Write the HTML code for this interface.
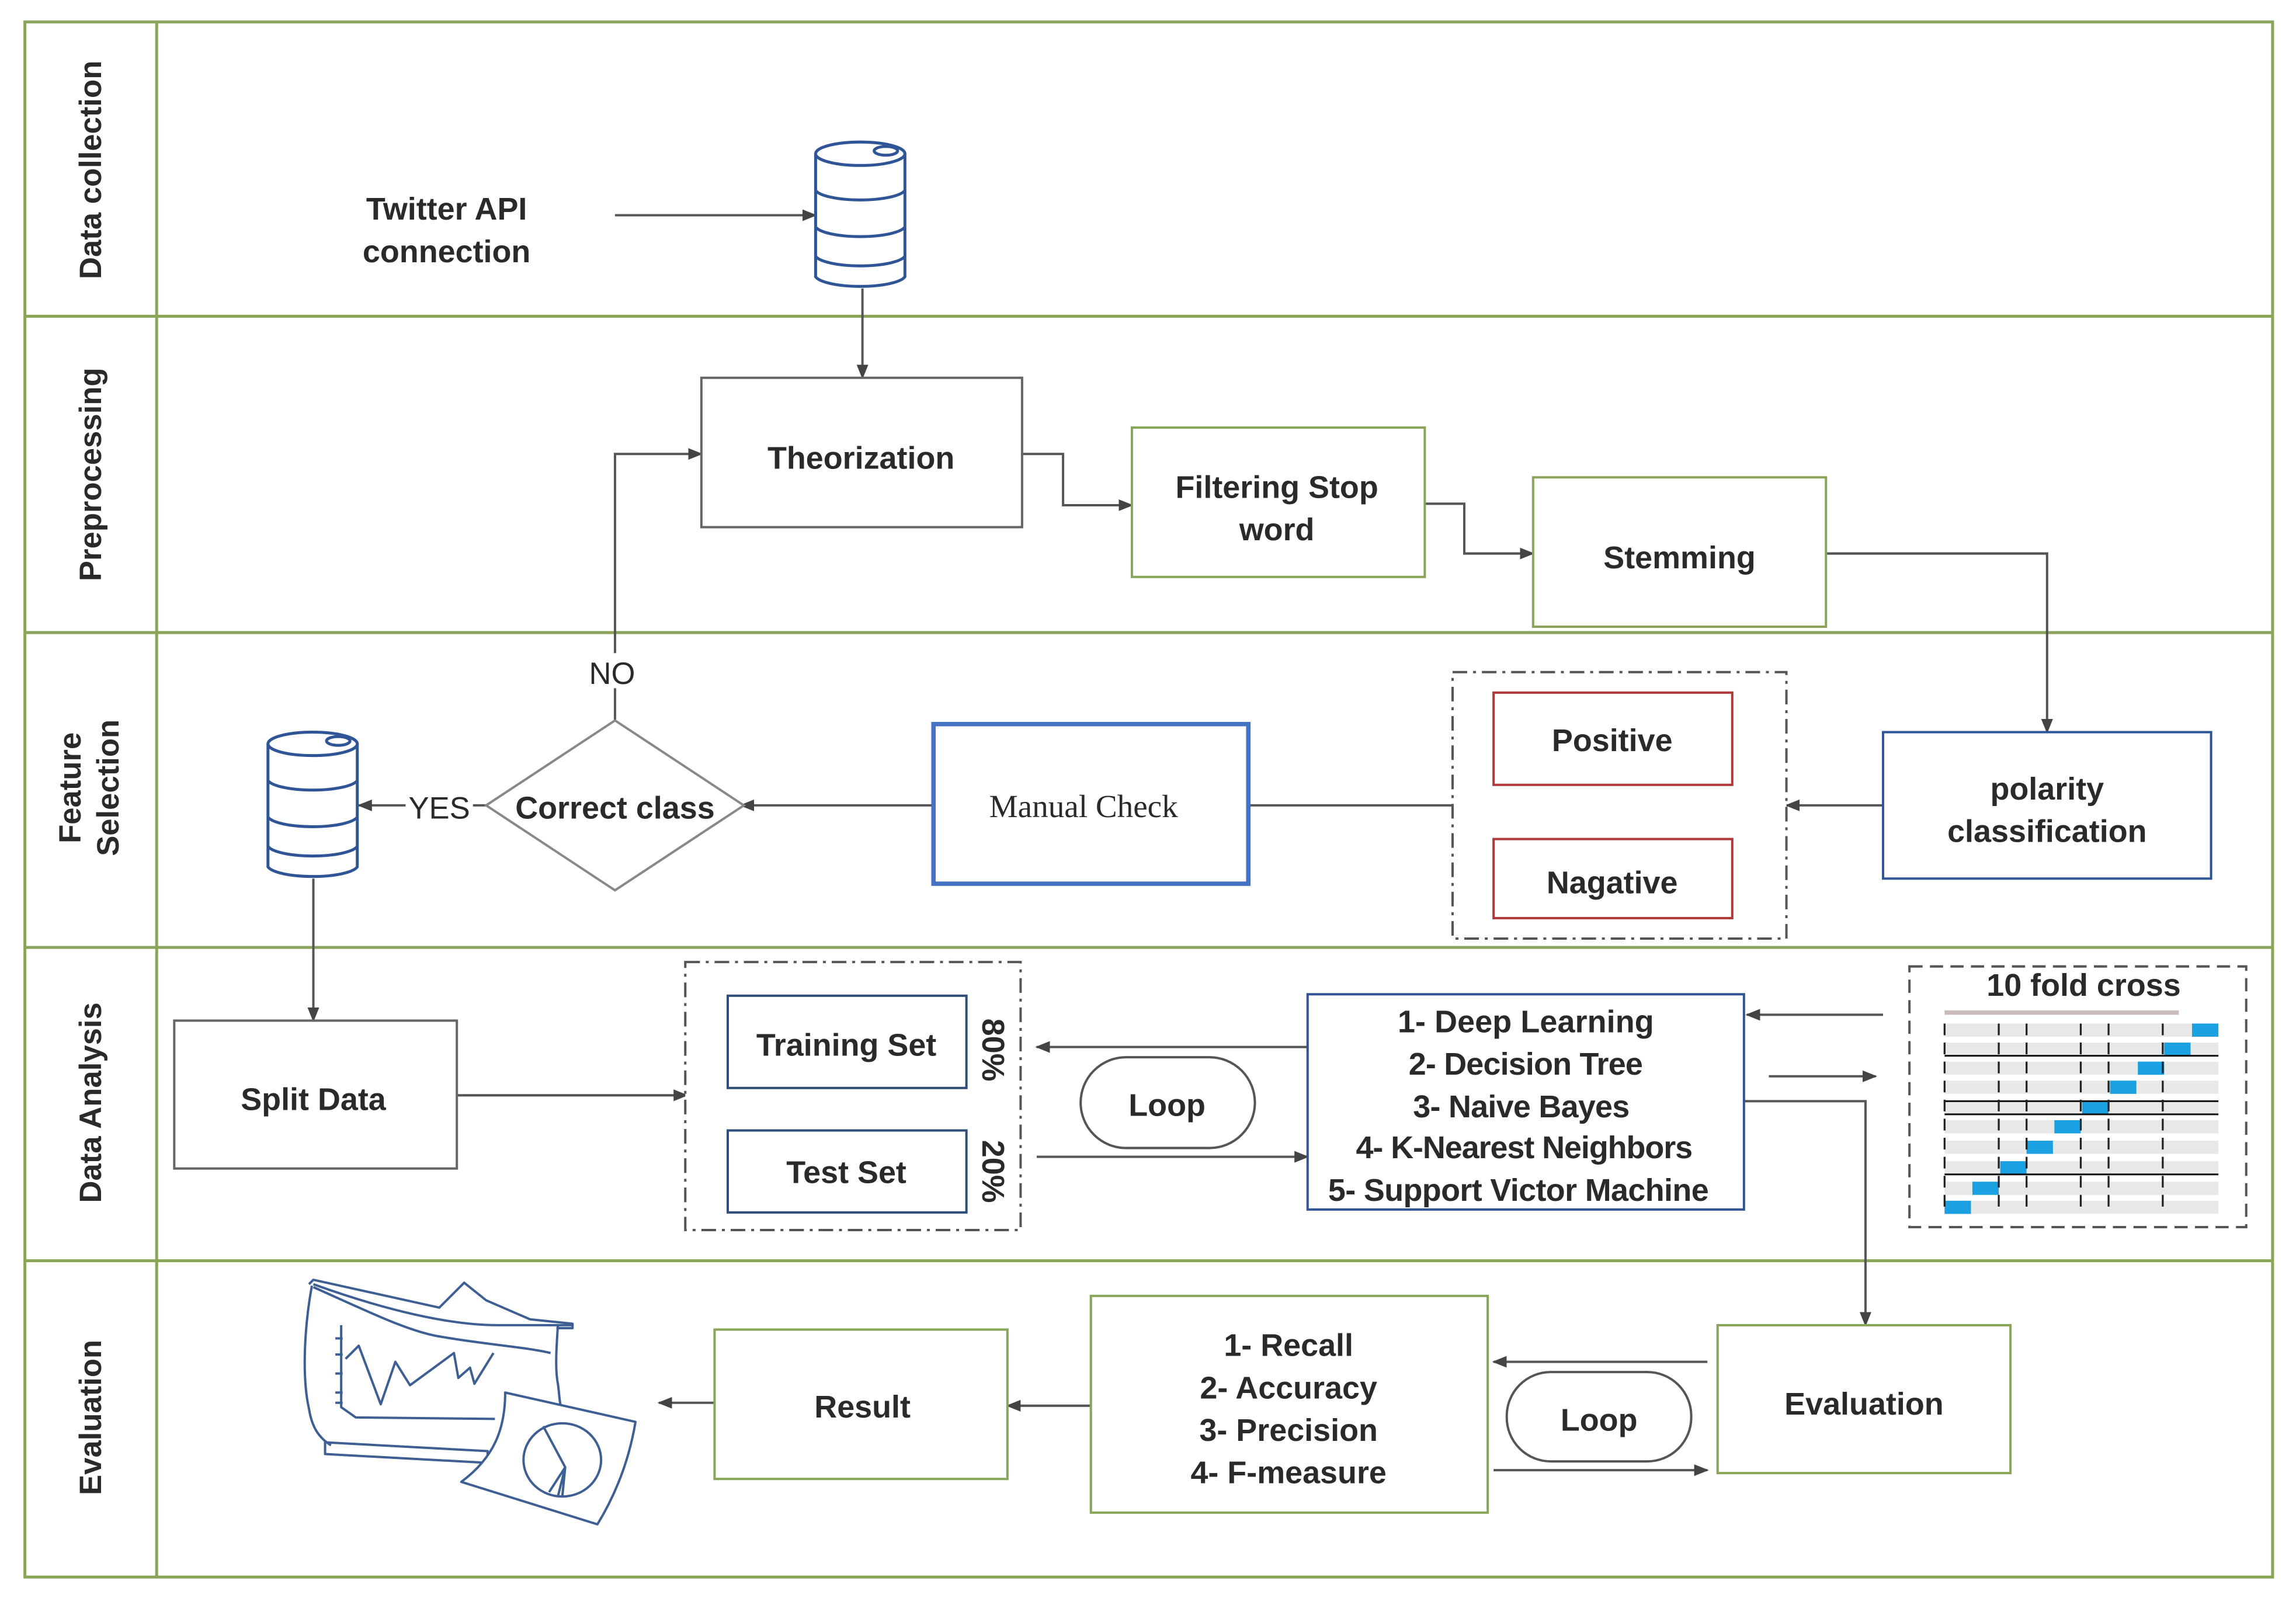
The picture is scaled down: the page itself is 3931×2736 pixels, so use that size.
<!DOCTYPE html>
<html><head><meta charset="utf-8"><style>
html,body{margin:0;padding:0;background:#fff}
svg{display:block}
text{font-family:"Liberation Sans",Arial,sans-serif;fill:#2a2a2a}
.t{font-size:21.5px;font-weight:bold;text-anchor:middle}
.lab{font-size:21px;font-weight:bold;text-anchor:middle}
</style></head><body>
<svg width="3931" height="2736" viewBox="0 0 1568 1091.3" preserveAspectRatio="none" xmlns="http://www.w3.org/2000/svg">
<defs>
<marker id="a" markerWidth="10" markerHeight="10" refX="9" refY="5" orient="auto" markerUnits="userSpaceOnUse">
<path d="M0,1 L10,5 L0,9 Z" fill="#444"/></marker>
</defs>
<rect width="1568" height="1092" fill="#fff"/>
<g stroke="#8aa55a" stroke-width="2" fill="none">
<rect x="17" y="15" width="1535" height="1062"/>
<line x1="107" y1="15" x2="107" y2="1077"/>
<line x1="17" y1="216" x2="1552" y2="216"/>
<line x1="17" y1="432" x2="1552" y2="432"/>
<line x1="17" y1="647" x2="1552" y2="647"/>
<line x1="17" y1="861" x2="1552" y2="861"/>
</g>
<text class="lab" transform="translate(69,116) rotate(-90)">Data collection</text>
<text class="lab" transform="translate(69,324) rotate(-90)">Preprocessing</text>
<text class="lab" transform="translate(55,538) rotate(-90)">Feature</text>
<text class="lab" transform="translate(81,538) rotate(-90)">Selection</text>
<text class="lab" transform="translate(69,753) rotate(-90)">Data Analysis</text>
<text class="lab" transform="translate(69,968) rotate(-90)">Evaluation</text>

<g stroke="#555" stroke-width="1.6" fill="none">
<line x1="420" y1="147" x2="557" y2="147" marker-end="url(#a)"/>
<line x1="589" y1="197" x2="589" y2="258" marker-end="url(#a)"/>
<polyline points="698,310 726,310 726,345 773,345" marker-end="url(#a)"/>
<polyline points="973,344 1000,344 1000,378 1047,378" marker-end="url(#a)"/>
<polyline points="1247,378 1398,378 1398,500" marker-end="url(#a)"/>
<line x1="1286" y1="550" x2="1220" y2="550" marker-end="url(#a)"/>
<line x1="853" y1="550" x2="992" y2="550"/>
<line x1="637" y1="550" x2="506" y2="550" marker-end="url(#a)"/>
<polyline points="420,492 420,310 479,310" marker-end="url(#a)"/>
<line x1="332" y1="550" x2="245" y2="550" marker-end="url(#a)"/>
<line x1="214" y1="600" x2="214" y2="697" marker-end="url(#a)"/>
<line x1="312" y1="748" x2="469" y2="748" marker-end="url(#a)"/>
<line x1="893" y1="715" x2="708" y2="715" marker-end="url(#a)"/>
<line x1="708" y1="790" x2="893" y2="790" marker-end="url(#a)"/>
<line x1="1286" y1="693" x2="1193" y2="693" marker-end="url(#a)"/>
<line x1="1208" y1="735" x2="1281" y2="735" marker-end="url(#a)"/>
<polyline points="1191,752 1274,752 1274,905" marker-end="url(#a)"/>
<line x1="1166" y1="930" x2="1020" y2="930" marker-end="url(#a)"/>
<line x1="1020" y1="1004" x2="1166" y2="1004" marker-end="url(#a)"/>
<line x1="745" y1="960" x2="688" y2="960" marker-end="url(#a)"/>
<line x1="488" y1="958" x2="450" y2="958" marker-end="url(#a)"/>
</g>

<text class="t" x="305" y="150">Twitter API</text>
<text class="t" x="305" y="179">connection</text>

<g id="db" stroke="#2f5597" stroke-width="2" fill="#fff">
<path d="M557,105 v84 a31,8 0 0 0 61,0 v-84"/>
<ellipse cx="587.5" cy="105" rx="30.5" ry="8"/>
<path d="M557,130 a31,8 0 0 0 61,0 M557,155 a31,8 0 0 0 61,0 M557,175 a31,8 0 0 0 61,0" fill="none"/>
<ellipse cx="605" cy="103" rx="8" ry="3" fill="none"/>
</g>
<use href="#db" transform="translate(-374,403)"/>

<g fill="#fff" stroke-width="1.6">
<rect x="479" y="258" width="219" height="102" stroke="#666"/>
<rect x="773" y="292" width="200" height="102" stroke="#8aa55a"/>
<rect x="1047" y="326" width="200" height="102" stroke="#8aa55a"/>
<rect x="1286" y="500" width="224" height="100" stroke="#2f5597"/>
<rect x="992" y="459" width="228" height="182" stroke="#555" stroke-dasharray="10,4,2,4"/>
<rect x="1020" y="473" width="163" height="63" stroke="#b03a3a"/>
<rect x="1020" y="573" width="163" height="54" stroke="#b03a3a"/>
<rect x="637.5" y="494.5" width="215" height="109" stroke="#4472c4" stroke-width="3"/>
<polygon points="420,492 508,550 420,608 332,550" stroke="#888"/>
<rect x="119" y="697" width="193" height="101" stroke="#666"/>
<rect x="468" y="657" width="229" height="183" stroke="#555" stroke-dasharray="10,4,2,4"/>
<rect x="497" y="680" width="163" height="63" stroke="#2f4f7a"/>
<rect x="497" y="772" width="163" height="56" stroke="#2f4f7a"/>
<rect x="738" y="722" width="119" height="62" rx="31" stroke="#555"/>
<rect x="893" y="679" width="298" height="147" stroke="#2f5597"/>
<rect x="1304" y="660" width="230" height="178" stroke="#555" stroke-dasharray="9,5"/>
<rect x="1173" y="905" width="200" height="101" stroke="#8aa55a"/>
<rect x="1029" y="937" width="126" height="61" rx="30" stroke="#555"/>
<rect x="745" y="885" width="271" height="148" stroke="#8aa55a"/>
<rect x="488" y="908" width="200" height="102" stroke="#8aa55a"/>
</g>

<text class="t" x="588" y="320">Theorization</text>
<text class="t" x="872" y="340">Filtering Stop</text>
<text class="t" x="872" y="369">word</text>
<text class="t" x="1147" y="388">Stemming</text>
<text class="t" x="1398" y="546">polarity</text>
<text class="t" x="1398" y="575">classification</text>
<text class="t" x="1101" y="513">Positive</text>
<text class="t" x="1101" y="610">Nagative</text>
<text x="740" y="558" style="font-family:'Liberation Serif',serif;font-size:22px;text-anchor:middle">Manual Check</text>
<text class="t" x="420" y="559">Correct class</text>
<rect x="400" y="446" width="38" height="24" fill="#fff"/>
<text x="418" y="467" style="font-size:21px;text-anchor:middle">NO</text>
<rect x="277" y="539" width="46" height="24" fill="#fff"/>
<text x="300" y="559" style="font-size:21px;text-anchor:middle">YES</text>
<text class="t" x="214" y="758">Split Data</text>
<text class="t" x="578" y="721">Training Set</text>
<text class="t" x="578" y="808">Test Set</text>
<text class="t" transform="translate(671,717) rotate(90)">80%</text>
<text class="t" transform="translate(671,800) rotate(90)">20%</text>
<text class="t" x="797" y="762">Loop</text>
<text class="t" x="1042" y="705" textLength="175">1- Deep Learning</text>
<text class="t" x="1042" y="734" textLength="160">2- Decision Tree</text>
<text class="t" x="1039" y="763" textLength="148">3- Naive Bayes</text>
<text class="t" x="1041" y="791" textLength="230">4- K-Nearest Neighbors</text>
<text class="t" x="1037" y="820" textLength="260">5- Support Victor Machine</text>
<text class="t" x="1423" y="680">10 fold cross</text>
<g>
<rect x="1328" y="690" width="160" height="3" fill="#cbb"/>
<g fill="#e8e8e8">
<rect x="1328" y="699" width="187" height="9"/><rect x="1328" y="712" width="187" height="9"/>
<rect x="1328" y="725" width="187" height="9"/><rect x="1328" y="738" width="187" height="9"/>
<rect x="1328" y="752" width="187" height="9"/><rect x="1328" y="765" width="187" height="9"/>
<rect x="1328" y="779" width="187" height="9"/><rect x="1328" y="793" width="187" height="9"/>
<rect x="1328" y="807" width="187" height="9"/><rect x="1328" y="820" width="187" height="9"/>
</g>
<g fill="#1ba1e2">
<rect x="1497" y="699" width="18" height="9"/><rect x="1478" y="712" width="18" height="9"/>
<rect x="1460" y="725" width="18" height="9"/><rect x="1441" y="738" width="18" height="9"/>
<rect x="1422" y="752" width="18" height="9"/><rect x="1403" y="765" width="18" height="9"/>
<rect x="1384" y="779" width="18" height="9"/><rect x="1366" y="793" width="18" height="9"/>
<rect x="1347" y="807" width="18" height="9"/><rect x="1328" y="820" width="18" height="9"/>
</g>
<g stroke="#111" stroke-width="1.2">
<line x1="1328" y1="721" x2="1515" y2="721"/><line x1="1328" y1="761" x2="1515" y2="761"/>
<line x1="1328" y1="802" x2="1515" y2="802"/><line x1="1328" y1="752" x2="1515" y2="752"/>
</g>
<path d="M1328,699v130 M1365,699v130 M1384,699v130 M1421,699v130 M1440,699v130 M1477,699v130" stroke="#222" stroke-width="1.3" stroke-dasharray="8,5"/>
</g>
<text class="t" x="1273" y="966">Evaluation</text>
<text class="t" x="1092" y="977">Loop</text>
<text class="t" x="880" y="926">1- Recall</text>
<text class="t" x="880" y="955">2- Accuracy</text>
<text class="t" x="880" y="984">3- Precision</text>
<text class="t" x="880" y="1013">4- F-measure</text>
<text class="t" x="589" y="968">Result</text>

<!-- chart icon -->
<g stroke="#3d5f94" stroke-width="1.6" fill="none" stroke-linejoin="round">
<path d="M211,877 L214,874 L300,893 L317,876 L332,888 L362,901 L391,904 L391,907 L380,907"/>
<path d="M214,877 C250,890 300,905 340,905 L391,905"/>
<path d="M214,879 C250,895 280,910 302,913 C330,918 360,920 376,924"/>
<path d="M213,878 C208,905 206,940 211,962 C213,975 218,982 226,987"/>
<path d="M381,905 C380,920 379,935 381,945 C382,952 382,957 383,960"/>
<path d="M222,985 L222,993 L333,999 L333,991 Z"/>
<path d="M233,905 L233,961 L243,968 L338,969"/>
<path d="M229,914 h5 M229,925 h5 M229,938 h5 M229,951 h5 M229,958 h5"/>
<path d="M236,928 L245,919 L260,959 L270,930 L280,946 L310,924 L313,941 L321,934 L324,945 L337,924"/>
<path d="M345,951 L434,971 C430,995 422,1018 408,1041 L315,1012 C338,995 345,975 345,951 Z" fill="#fff"/>
<ellipse cx="384" cy="997" rx="26.5" ry="25" fill="#fff"/>
<path d="M371,974 L386,1002 L375,1019 M386,1002 L381,1022 M386,1002 L384,1022"/>
</g>
</svg>
</body></html>
